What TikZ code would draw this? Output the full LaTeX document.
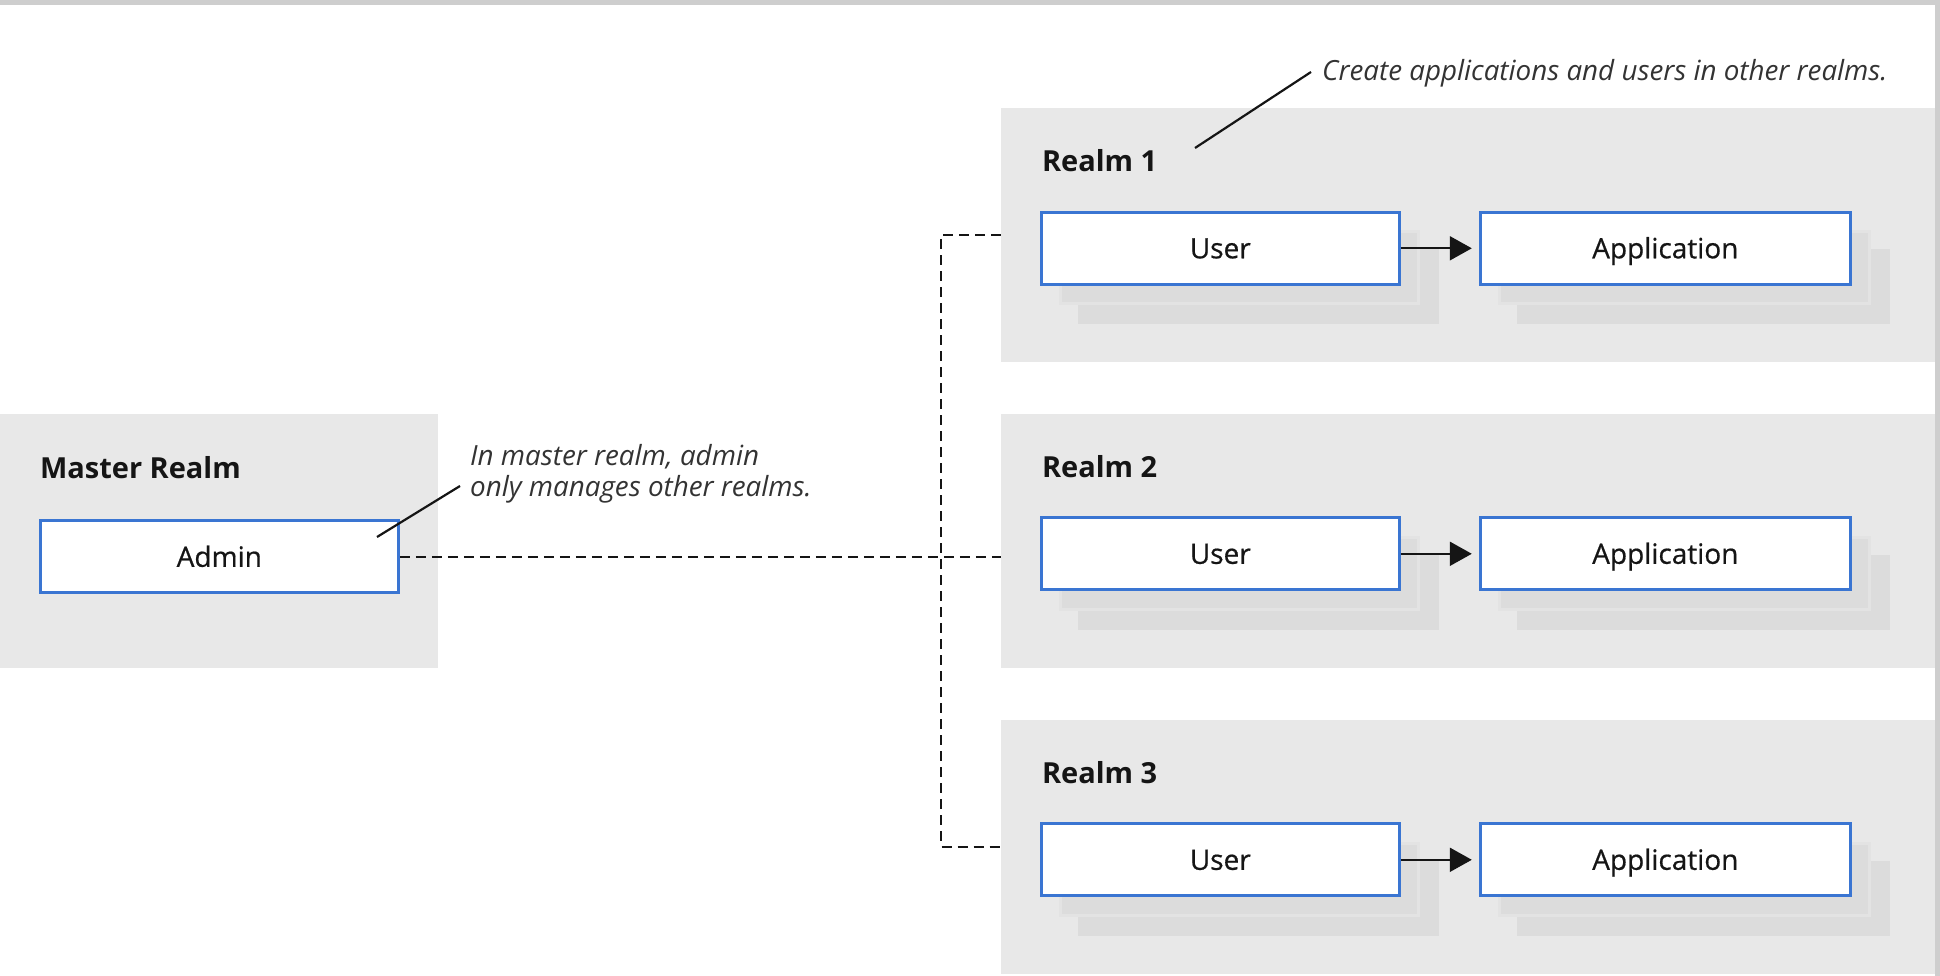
\documentclass[tikz,border=0pt]{standalone}
\usepackage{fontspec}
\setmainfont{Open Sans}
\newfontfamily\boxfont{Open Sans}[FakeBold=0.6]
\usepackage{tikz}
\usetikzlibrary{arrows.meta, positioning, shadows}
\definecolor{realmgray}{RGB}{232,232,232}
\definecolor{shadowgray}{RGB}{220,220,220}
\definecolor{shadowedge}{RGB}{227,227,227}
\definecolor{boxblue}{RGB}{58,117,210}
\definecolor{inkdark}{RGB}{21,21,21}
\definecolor{notegray}{RGB}{51,51,51}
\definecolor{framegray}{RGB}{206,206,206}
\tikzset{
  realm/.style={rectangle, fill=realmgray, draw=none, inner sep=0,
    minimum height=254pt},
  realmtitle/.style={anchor=base west, inner sep=0,
    font=\fontsize{29}{34}\selectfont\bfseries, text=inkdark},
  entity/.style={rectangle, draw=boxblue, fill=white, line width=3pt,
    minimum width=358pt, minimum height=72pt, inner sep=0,
    text height=20pt, text depth=0pt,
    font=\boxfont\fontsize{28}{34}\selectfont, text=inkdark},
  stacked/.style={entity,
    copy shadow={shadow xshift=38.5pt, shadow yshift=-38.5pt, fill=shadowgray, draw=shadowgray},
    copy shadow={shadow xshift=19.5pt, shadow yshift=-19.5pt, fill=shadowgray, draw=shadowedge}},
  appbox/.style={stacked, minimum width=370pt},
  note/.style={inner sep=0, font=\fontsize{27.8}{31}\selectfont\itshape,
    text=notegray, align=left},
  pointer/.style={line width=2.2pt, color=inkdark},
  arrow/.style={-{Triangle[length=22pt,width=24pt]}, line width=2pt,
    color=inkdark, shorten >=7pt},
  link/.style={dash pattern=on 10pt off 6pt, line width=2pt, color=inkdark}
}
\begin{document}
\begin{tikzpicture}[x=1pt, y=-1pt]
  \useasboundingbox (0,0) rectangle (1940,976);
  % screenshot frame
  \fill[framegray] (0,0) rectangle (1940,5);
  \fill[framegray] (1935,0) rectangle (1940,976);

  % realms
  \node[realm, minimum width=438pt] (master) at (219,540.5) {};
  \node[realm, minimum width=934pt] (r1) at (1468,235) {};
  \node[realm, minimum width=934pt] (r2) at (1468,540.5) {};
  \node[realm, minimum width=934pt] (r3) at (1468,846.5) {};

  \node[realmtitle] (mtitle) at ([xshift=40pt,yshift=-65pt]master.north west) {Master Realm};
  \node[realmtitle] (r1title) at ([xshift=41pt,yshift=-64pt]r1.north west) {Realm 1};
  \node[realmtitle] (r2title) at ([xshift=41pt,yshift=-64pt]r2.north west) {Realm 2};
  \node[realmtitle] (r3title) at ([xshift=41pt,yshift=-64pt]r3.north west) {Realm 3};

  % admin, users and applications
  \node[entity, anchor=north west] (admin) at ([xshift=39pt,yshift=-106pt]master.north west) {Admin};
  \node[stacked, anchor=north west] (u1) at ([xshift=39pt,yshift=-103pt]r1.north west) {User};
  \node[appbox, right=78pt of u1] (a1) {Application};
  \node[stacked, anchor=north west] (u2) at ([xshift=39pt,yshift=-103pt]r2.north west) {User};
  \node[appbox, right=78pt of u2] (a2) {Application};
  \node[stacked, anchor=north west] (u3) at ([xshift=39pt,yshift=-103pt]r3.north west) {User};
  \node[appbox, right=78pt of u3] (a3) {Application};

  \draw[arrow] (u1) -- (a1);
  \draw[arrow] (u2) -- (a2);
  \draw[arrow] (u3) -- (a3);

  % dashed links from admin to the realms
  \coordinate (bus) at (941,0);
  \draw[link] (admin.east) -- (admin.east -| r2.west);
  \draw[link] (r1.west) -- (r1.west -| bus) -- (r3.west -| bus) -- (r3.west);

  % notes
  \node[note, anchor=base west] (n1) at (1322,81) {Create applications and users in other realms.};
  \coordinate (n1tip) at (1195,148);
  \draw[pointer] (n1tip) -- ([xshift=-11pt,yshift=9pt]n1.base west);

  \node[note, anchor=west] (n2) at (470,474) {In master realm, admin\\only manages other realms.};
  \coordinate (n2tip) at (377,537);
  \draw[pointer] (n2tip) -- ([xshift=-10pt,yshift=-12pt]n2.west);
\end{tikzpicture}
\end{document}
